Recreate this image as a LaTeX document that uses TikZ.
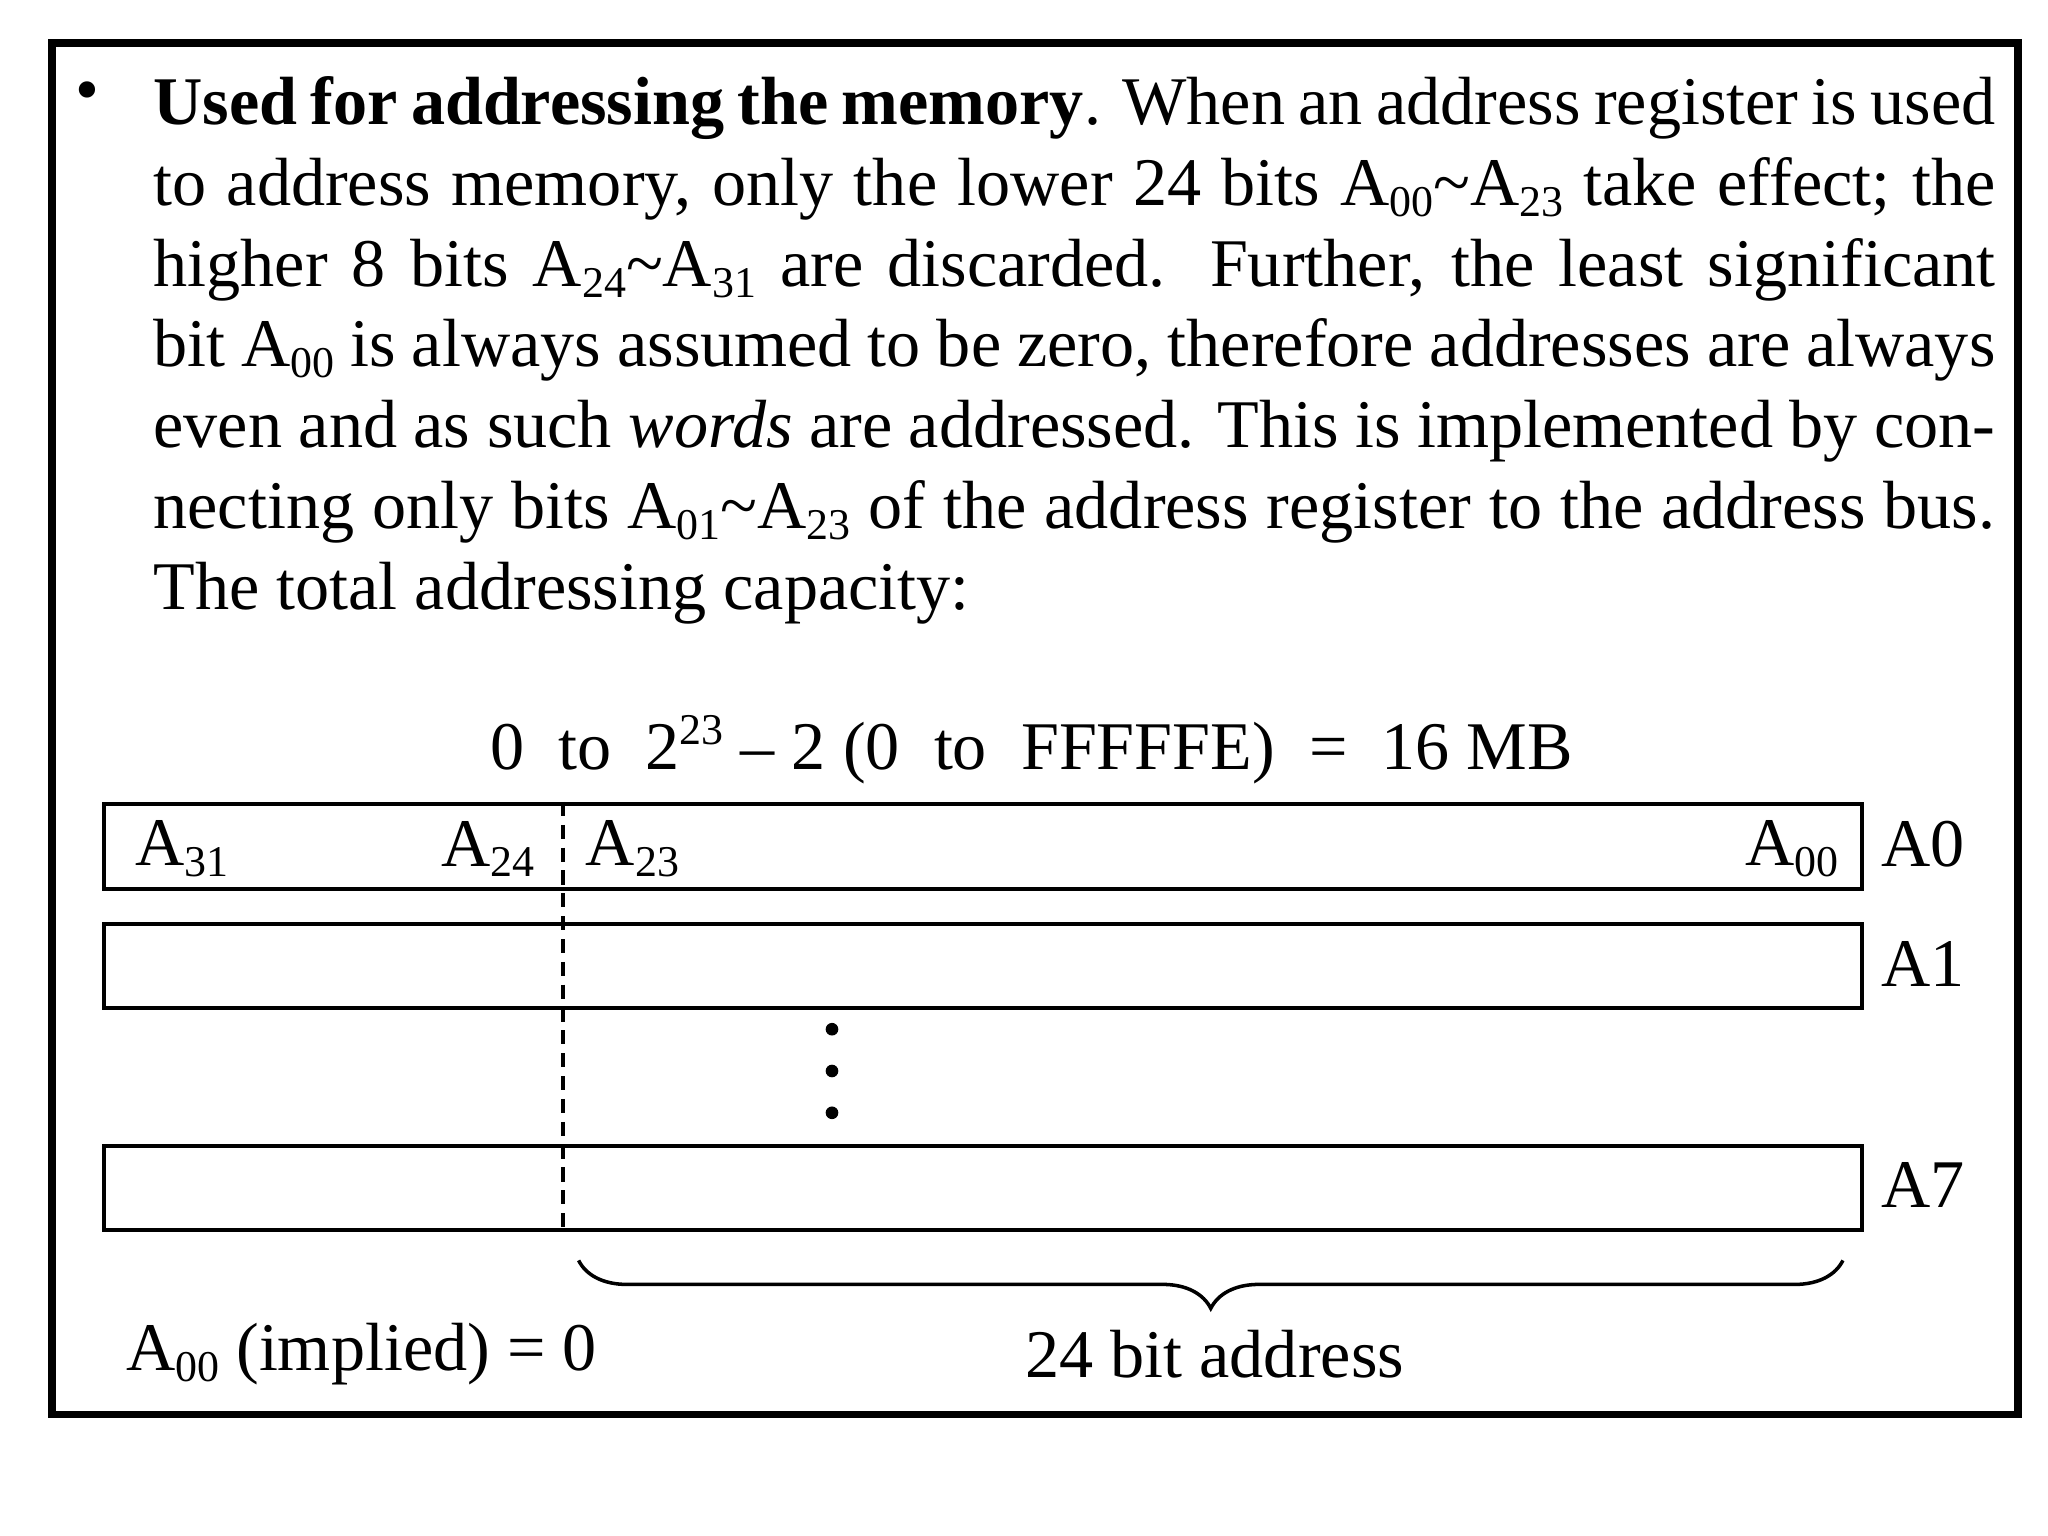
\documentclass[tikz,border=0pt]{standalone}
\usepackage{fontspec}
\setmainfont{Liberation Serif}
\usetikzlibrary{decorations.pathreplacing}
\newcommand{\sbs}[1]{\raisebox{-0.35ex}{\fontsize{12.5}{12.5}\selectfont #1}}
\newcommand{\sps}[1]{\raisebox{0.8ex}{\fontsize{12.5}{12.5}\selectfont #1}}
\begin{document}
\begin{tikzpicture}[x=0.01306cm,y=-0.01306cm,
  txt/.style={font=\fontsize{19.4}{23}\selectfont,inner sep=0pt},
  reg/.style={draw,line width=1.2pt}]
\useasboundingbox (0,0) rectangle (1568,1176);
\draw[line width=2.2pt] (40,33) rectangle (1545,1083);
\node[txt,anchor=north west] (bul) at (57,62) {\textbullet};
\node[txt,anchor=north west,text width=18.42cm,align=justify] (para) at (117,58)
{\fontsize{19.4}{35.5}\selectfont\hyphenpenalty=10000\exhyphenpenalty=10000\textbf{Used for addressing the memory}. When an address register is used to address memory, only the lower 24 bits A\sbs{00}\textasciitilde A\sbs{23} take effect; the higher 8 bits A\sbs{24}\textasciitilde A\sbs{31} are discarded. Further, the least significant bit A\sbs{00} is always assumed to be zero, therefore addresses are always even and as such \textit{words} are addressed. This is implemented by connecting only bits A\sbs{01}\textasciitilde A\sbs{23} of the address register to the address bus. The total addressing capacity:};
\node[txt] (cap) at (790,574) {0\ \ to\ \ 2\sps{23} -- 2 (0\ \ to\ \ FFFFFE)\ \ =\ \ 16 MB};
\node[reg,minimum width=1346*0.01306cm,minimum height=65*0.01306cm,anchor=north west] (r0) at (78,614) {};
\node[reg,minimum width=1346*0.01306cm,minimum height=64*0.01306cm,anchor=north west] (r1) at (78,706) {};
\node[reg,minimum width=1346*0.01306cm,minimum height=64*0.01306cm,anchor=north west] (r7) at (78,876) {};
\coordinate (dt) at (431,614); \coordinate (db) at (431,940);
\draw[dash pattern=on 4pt off 2.5pt,line width=1pt] (dt) -- (db);
\node[txt,anchor=west] (a31) at (103,650) {A\sbs{31}};
\node[txt,anchor=east] (a24) at (410,650) {A\sbs{24}};
\node[txt,anchor=west] (a23) at (448,650) {A\sbs{23}};
\node[txt,anchor=east] (a00) at (1408,650) {A\sbs{00}};
\node[txt,anchor=west] (l0) at (1440,646) {A0};
\node[txt,anchor=west] (l1) at (1440,738) {A1};
\node[txt,anchor=west] (l7) at (1440,907) {A7};
\foreach \y/\n in {788/d1,820/d2,852/d3} \fill (637,\y) circle (1.8pt) coordinate (\n);
\coordinate (bl) at (443,965); \coordinate (br) at (1411,965);
\draw[decorate,decoration={brace,mirror,amplitude=0.48cm},line width=1pt] (bl) -- (br);
\node[txt] (addr) at (930,1037) {24 bit address};
\node[txt,anchor=west] (impl) at (96,1037) {A\sbs{00} (implied) = 0};
\end{tikzpicture}
\end{document}
